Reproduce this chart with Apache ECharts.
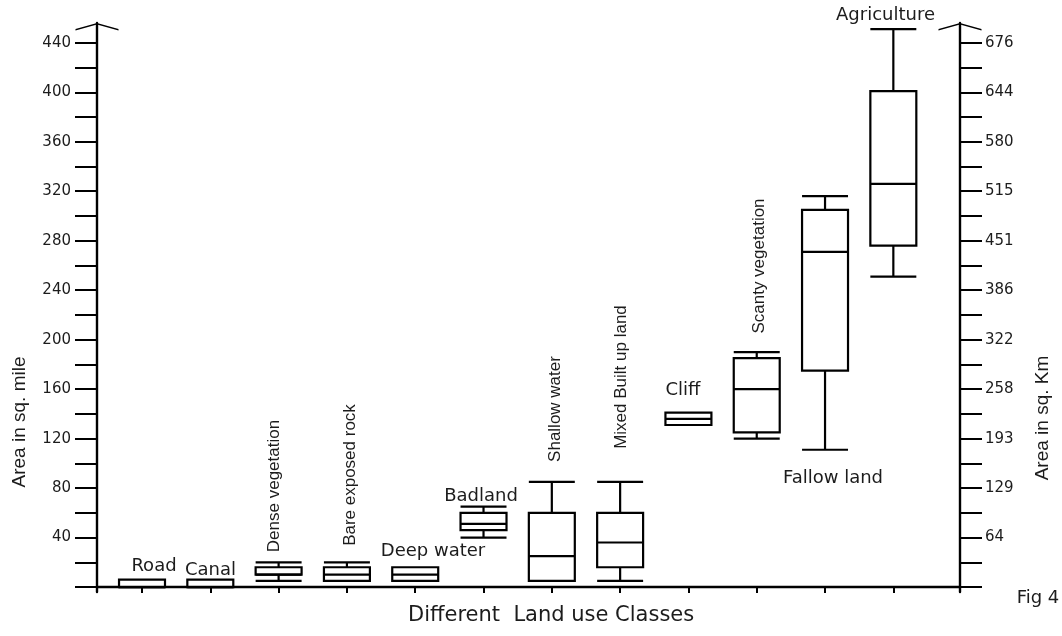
<!DOCTYPE html>
<html>
<head>
<meta charset="utf-8">
<title>Different Land use Classes</title>
<script src="https://cdn.jsdelivr.net/npm/echarts@6/dist/echarts.min.js"></script>
<style>
  html, body { margin: 0; padding: 0; background: #fff; }
  #chart { width: 1062px; height: 636px; }
</style>
</head>
<body>
<div id="chart"></div>
<script>
// Land use classes along the x axis
const categories = [
  'Road', 'Canal', 'Dense vegetation', 'Bare exposed rock', 'Deep water', 'Badland',
  'Shallow water', 'Mixed Built up land', 'Cliff', 'Scanty vegetation', 'Fallow land', 'Agriculture'
];

// Five-number summaries, area in sq. mile
const lowValues    = [0, 0,  5,  5,  5, 40,  5,  5, 131, 120, 111, 251];
const q1Values     = [0, 0, 10,  5,  5, 46,  5, 16, 131, 125, 175, 276];
const medianValues = [0, 0, 10, 10, 10, 51, 25, 36, 136, 160, 271, 326];
const q3Values     = [6, 6, 16, 16, 16, 60, 60, 60, 141, 185, 305, 401];
const highValues   = [6, 6, 20, 20, 16, 65, 85, 85, 141, 190, 316, 451];

// Axis ticks and labels
const mileTicks  = [0, 20, 40, 60, 80, 100, 120, 140, 160, 180, 200, 220, 240, 260, 280, 300, 320, 340, 360, 380, 400, 420, 440];
const mileLabels = [40, 80, 120, 160, 200, 240, 280, 320, 360, 400, 440];
const kmLabels   = ['64', '129', '193', '258', '322', '386', '451', '515', '580', '644', '676'];

const boxData = categories.map((c, i) => [
  i + 1, lowValues[i], q1Values[i], medianValues[i], q3Values[i], highValues[i]
]);

const INK = '#000';
const TEXT = '#1c1c1c';
const SANS = '"DejaVu Sans", Verdana, sans-serif';
const ARIAL = '"Liberation Sans", Arial, sans-serif';

// open chevron drawn at the top of each vertical axis
const chevron = 'path://M0,60 L215,0 L430,60 L430,74 L215,14 L0,74 Z';

function renderBox(params, api) {
  const x = api.value(0);
  const low = api.value(1), q1 = api.value(2), med = api.value(3), q3 = api.value(4), high = api.value(5);
  const cx = api.coord([x, q1])[0];
  const half = api.size([0.673, 0])[0] / 2;
  const y = v => api.coord([x, v])[1];
  const st = { stroke: INK, lineWidth: 2.2, fill: null };
  const children = [
    { type: 'rect', shape: { x: cx - half, y: y(q3), width: half * 2, height: y(q1) - y(q3) }, style: st },
    { type: 'line', shape: { x1: cx - half, y1: y(med), x2: cx + half, y2: y(med) }, style: st }
  ];
  if (high > q3) {
    children.push({ type: 'line', shape: { x1: cx, y1: y(q3), x2: cx, y2: y(high) }, style: st });
    children.push({ type: 'line', shape: { x1: cx - half, y1: y(high), x2: cx + half, y2: y(high) }, style: st });
  }
  if (low < q1) {
    children.push({ type: 'line', shape: { x1: cx, y1: y(q1), x2: cx, y2: y(low) }, style: st });
    children.push({ type: 'line', shape: { x1: cx - half, y1: y(low), x2: cx + half, y2: y(low) }, style: st });
  }
  return { type: 'group', children };
}

function yAxisBase(position) {
  return {
    type: 'value',
    position,
    min: -4,
    max: 456,
    splitLine: { show: false },
    axisLine: {
      show: true,
      onZero: false,
      symbol: ['none', chevron],
      symbolSize: [43, 7.4],
      symbolOffset: [0, -3.7],
      lineStyle: { color: INK, width: 2.4 }
    },
    axisTick: {
      show: true,
      length: 22,
      customValues: mileTicks,
      lineStyle: { color: INK, width: 2 }
    }
  };
}

function hText(text, x, y, size) {
  return {
    type: 'text', x, y,
    style: { text, x: 0, y: 0, align: 'center', verticalAlign: 'middle', fill: TEXT, font: `${size}px ${SANS}` }
  };
}
function vText(text, x, y, size, family) {
  return {
    type: 'text', x, y, rotation: Math.PI / 2,
    style: { text, x: 0, y: 0, align: 'center', verticalAlign: 'middle', fill: TEXT, font: `${size}px ${family || ARIAL}` }
  };
}

const chart = echarts.init(document.getElementById('chart'), null, { renderer: 'canvas' });

chart.setOption({
  animation: false,
  backgroundColor: '#fff',
  grid: { left: 97, right: 102, top: 23, bottom: 44, containLabel: false },
  xAxis: {
    type: 'value',
    min: 0.341,
    max: 12.976,
    splitLine: { show: false },
    axisLine: { show: true, onZero: true, lineStyle: { color: INK, width: 2.4 } },
    axisTick: {
      show: true,
      length: 6,
      customValues: categories.map((c, i) => i + 1),
      lineStyle: { color: INK, width: 2 }
    },
    axisLabel: { show: false }
  },
  yAxis: [
    Object.assign(yAxisBase('left'), {
      axisLabel: {
        customValues: mileLabels,
        margin: 26,
        color: TEXT,
        fontSize: 15,
        fontFamily: SANS
      }
    }),
    Object.assign(yAxisBase('right'), {
      axisLabel: {
        customValues: mileLabels,
        margin: 25,
        color: TEXT,
        fontSize: 15,
        fontFamily: SANS,
        formatter: v => kmLabels[mileLabels.indexOf(v)]
      }
    })
  ],
  series: [{
    type: 'custom',
    name: 'Area',
    renderItem: renderBox,
    encode: { x: 0, y: [1, 2, 3, 4, 5] },
    data: boxData,
    clip: false,
    z: 3
  }],
  graphic: [
    hText('Road', 154, 566, 18),
    hText('Canal', 210.5, 570, 18),
    vText('Dense vegetation', 274, 486, 17),
    vText('Bare exposed rock', 350.5, 475, 17),
    hText('Deep water', 433, 551, 18),
    hText('Badland', 481, 496.5, 18),
    vText('Shallow water', 555, 409, 17),
    vText('Mixed Built up land', 621.5, 377, 17),
    hText('Cliff', 683, 390.5, 18),
    vText('Scanty vegetation', 759, 266, 17),
    hText('Fallow land', 833, 478, 18),
    hText('Agriculture', 885.5, 15, 18),
    vText('Area in sq. mile', 20, 422, 19),
    vText('Area in sq. Km', 1043, 418, 19),
    {
      type: 'text', x: 408, y: 616,
      style: { text: 'Different  Land use Classes', x: 0, y: 0, align: 'left', verticalAlign: 'middle', fill: TEXT, font: `21px ${SANS}` }
    },
    hText('Fig 4', 1038, 598, 18)
  ]
});
</script>
</body>
</html>
